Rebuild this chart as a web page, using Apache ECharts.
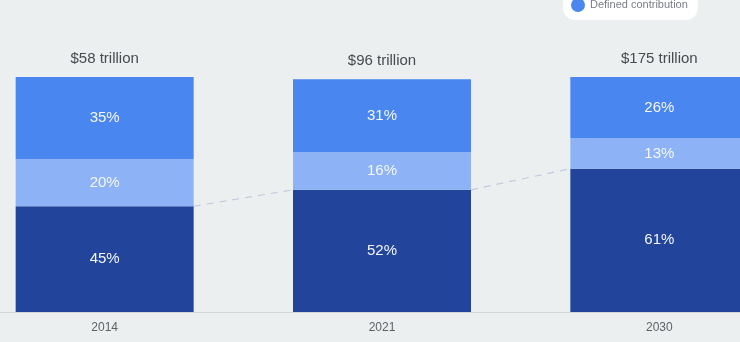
<!DOCTYPE html>
<html>
<head>
<meta charset="utf-8">
<script src="https://cdn.jsdelivr.net/npm/echarts@6/dist/echarts.min.js"></script>
<style>
  html, body { margin: 0; padding: 0; background: #ebeff0; }
  #chart { width: 740px; height: 342px; }
</style>
</head>
<body>
<div id="chart"></div>
<script>
// Pension assets by year, split into three plan shares (percent of total)
const years = ['2014', '2021', '2030'];
const totals = ['$58 trillion', '$96 trillion', '$175 trillion'];
const sharesBottom = [45, 52, 61];
const sharesMiddle = [20, 16, 13];
const sharesTop = [35, 31, 26];

const BAR_WIDTH = 178;
const FONT = '"Liberation Sans", Arial, sans-serif';

// dashed connectors between the tops of the dark segments
const connectors = sharesBottom.slice(0, -1).map((v, i) => [i, v, sharesBottom[i + 1]]);

const segLabel = {
  show: true,
  position: 'inside',
  color: '#f4f7ff',
  fontSize: 15,
  fontFamily: FONT,
  formatter: '{c}%'
};

const chart = echarts.init(document.getElementById('chart'));
chart.setOption({
  backgroundColor: '#ebeff0',
  animation: false,
  legend: {
    data: ['Defined contribution'],
    left: 563,
    top: -10,
    padding: [8, 10, 8, 8],
    backgroundColor: '#ffffff',
    borderRadius: 12,
    itemWidth: 14,
    itemHeight: 14,
    itemGap: 6,
    icon: 'circle',
    textStyle: { color: '#7a7e84', fontSize: 11, fontFamily: FONT }
  },
  grid: {
    left: -34, right: -58, top: 77, bottom: 30,
    outerBoundsMode: 'none',
    containLabel: false
  },
  xAxis: {
    type: 'category',
    data: years,
    axisLine: { lineStyle: { color: '#d2d6da', width: 1 } },
    axisTick: { show: false },
    axisLabel: { color: '#5e6166', fontSize: 12, fontFamily: FONT, margin: 10 }
  },
  yAxis: { type: 'value', min: 0, max: 100, show: false },
  series: [
    {
      name: 'Connector',
      type: 'custom',
      z: 1,
      silent: true,
      data: connectors,
      renderItem: function (params, api) {
        const i = api.value(0);
        const a = api.coord([i, api.value(1)]);
        const b = api.coord([i + 1, api.value(2)]);
        const half = BAR_WIDTH / 2;
        return {
          type: 'line',
          shape: { x1: a[0] + half, y1: a[1], x2: b[0] - half, y2: b[1] },
          style: { stroke: '#c6c9de', lineWidth: 1.2, lineDash: [7, 6] }
        };
      }
    },
    {
      name: 'Defined benefit',
      type: 'bar',
      stack: 'total',
      barWidth: BAR_WIDTH,
      z: 2,
      itemStyle: { color: '#22449a' },
      label: segLabel,
      data: sharesBottom
    },
    {
      name: 'Hybrid',
      type: 'bar',
      stack: 'total',
      barWidth: BAR_WIDTH,
      z: 2,
      itemStyle: { color: '#8db3f6' },
      label: segLabel,
      data: sharesMiddle
    },
    {
      name: 'Defined contribution',
      type: 'bar',
      stack: 'total',
      barWidth: BAR_WIDTH,
      z: 2,
      itemStyle: { color: '#4a86f0' },
      label: segLabel,
      data: sharesTop
    },
    {
      // total asset labels above each bar
      name: 'Totals',
      type: 'bar',
      stack: 'total',
      barWidth: BAR_WIDTH,
      z: 2,
      silent: true,
      itemStyle: { color: 'transparent' },
      label: {
        show: true,
        position: 'top',
        distance: 11,
        color: '#474a4f',
        fontSize: 15,
        fontFamily: FONT,
        formatter: p => totals[p.dataIndex]
      },
      data: years.map(() => 0)
    }
  ]
});
</script>
</body>
</html>
